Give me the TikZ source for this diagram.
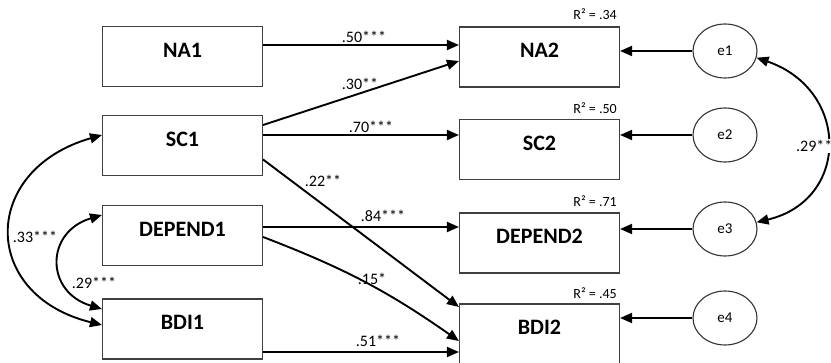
\documentclass[tikz,border=0pt]{standalone}
\usepackage{fontspec}
\setmainfont{Carlito}
\usetikzlibrary{arrows.meta,shapes.geometric}
\begin{document}
\begin{tikzpicture}[x=1pt,y=-1pt,
  varbox/.style={draw=black!75,line width=1.1pt,minimum width=160pt,inner sep=0pt,
    text height=31pt,text depth=29pt,font=\fontsize{22}{26}\selectfont\bfseries},
  errnode/.style={ellipse,draw=black!80,line width=1.1pt,minimum width=64pt,
    minimum height=54pt,inner sep=0pt,font=\fontsize{15}{18}\selectfont},
  arr/.style={line width=1.9pt,-{Triangle[length=12pt,width=10pt]}},
  covar/.style={line width=1.9pt,{Triangle[length=12pt,width=10pt]}-{Triangle[length=12pt,width=10pt]}},
  coef/.style={font=\fontsize{16}{19}\selectfont,inner sep=1pt},
  rsq/.style={font=\fontsize{14}{16}\selectfont,anchor=base east,inner sep=0pt},
]
\useasboundingbox (0,0) rectangle (831,363);
\fill[white] (0,0) rectangle (831,363);

% predictors
\node[varbox] (NA1) at (182.5,56.5) {NA1};
\node[varbox] (SC1) at (182.5,145.5) {SC1};
\node[varbox] (DEP1) at (182.5,235.5) {DEPEND1};
\node[varbox] (BDI1) at (182.5,329) {BDI1};

% outcomes
\node[varbox] (NA2) at (539.5,57) {NA2};
\node[varbox] (SC2) at (539.5,149.5) {SC2};
\node[varbox] (DEP2) at (539.5,243) {DEPEND2};
\node[varbox] (BDI2) at (539.5,334) {BDI2};

% R squared
\node[rsq] (r1) at (617,20) {R² = .34};
\node[rsq] (r2) at (617,114) {R² = .50};
\node[rsq] (r3) at (617,207) {R² = .71};
\node[rsq] (r4) at (617,299) {R² = .45};

% errors
\node[errnode] (e1) at (725,51) {e1};
\node[errnode] (e2) at (725,135) {e2};
\node[errnode] (e3) at (725,229) {e3};
\node[errnode] (e4) at (725,318) {e4};

\draw[arr] (e1.west) -- (NA2.east |- e1.west);
\draw[arr] (e2.west) -- (SC2.east |- e2.west);
\draw[arr] (e3.west) -- (DEP2.east |- e3.west);
\draw[arr] (e4.west) -- (BDI2.east |- e4.west);

% paths
\draw[arr] ([yshift=11.5pt]NA1.east) -- ([yshift=12pt]NA2.west);
\draw[arr] ([yshift=20.5pt]SC1.east) -- ([yshift=-4pt]NA2.west);
\draw[arr] ([yshift=10.5pt]SC1.east) -- ([yshift=14.5pt]SC2.west);
\draw[arr] ([yshift=-14pt]SC1.east) -- ([yshift=27pt]BDI2.west);
\draw[arr] ([yshift=8.5pt]DEP1.east) -- ([yshift=16pt]DEP2.west);
\draw[arr] ([yshift=-1.5pt]DEP1.east) to[bend left=7] ([yshift=-7pt]BDI2.west);
\draw[arr] ([yshift=-23pt]BDI1.east) -- ([yshift=-18pt]BDI2.west);

% coefficients
\node[coef] (c1) at (364,37) {.50***};
\node[coef] (c2) at (360,84) {.30**};
\node[coef] (c3) at (371,127) {.70***};
\node[coef] (c4) at (323,181) {.22**};
\node[coef] (c5) at (383,216) {.84***};
\node[coef] (c6) at (372,279) {.15*};
\node[coef] (c7) at (378,341) {.51***};

% covariances
\draw[covar] ([yshift=10.5pt]SC1.west) .. controls (-20,170) and (-20,295) .. ([yshift=4pt]BDI1.west);
\draw[covar] ([yshift=20.5pt]DEP1.west) .. controls (45,232) and (45,292) .. ([yshift=20pt]BDI1.west);
\draw[covar] (e1.-12) .. controls (850,90) and (850,200) .. (e3.12);

\node[coef,fill=white] (c8) at (35,237) {.33***};
\node[coef] (c9) at (94,283) {.29***};
\node[coef,fill=white,anchor=west] (c10) at (795,146) {.29**};
\end{tikzpicture}
\end{document}
